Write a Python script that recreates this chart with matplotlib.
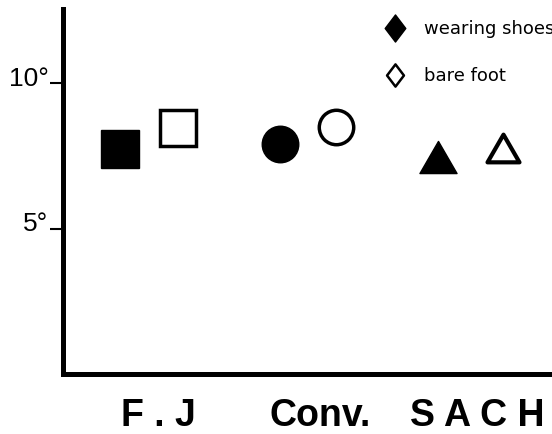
import matplotlib
matplotlib.use("Agg")
import matplotlib.pyplot as plt
from matplotlib.lines import Line2D
from matplotlib.markers import MarkerStyle
from matplotlib.path import Path
from matplotlib.transforms import ScaledTranslation

# values
categories = ["F . J", "Conv.", "S A C H"]
cat_x = [1.95, 5.26, 8.48]
x_shoes = [1.17, 4.44, 7.67]
x_bare = [2.35, 5.58, 9.0]
angle_shoes = [7.72, 7.91, 7.47]
angle_bare = [8.45, 8.48, 7.78]
y_ticks = [5, 10]
y_tick_labels = ["5°", "10°"]

tri = MarkerStyle(Path([(-1, -0.866), (1, -0.866), (0, 0.866), (-1, -0.866)], closed=True),
                  joinstyle="miter")
diamond = MarkerStyle(Path([(0, 1), (0.76, 0), (0, -1), (-0.76, 0), (0, 1)], closed=True),
                      joinstyle="miter")

# marker, size for filled / open
shapes = [("s", 27.4, 26.3), ("o", 26.3, 24.8), (tri, 26.7, 23)]

fig = plt.figure(figsize=(5.52, 4.34), dpi=100)
ax = fig.add_axes([63 / 552, 60 / 434, 1 - 63 / 552, (374 - 9) / 434])

for i, (m, s_full, s_open) in enumerate(shapes):
    ax.plot(x_shoes[i], angle_shoes[i], linestyle="none", marker=m, markersize=s_full,
            markerfacecolor="black", markeredgecolor="black", markeredgewidth=1)
    ax.plot(x_bare[i], angle_bare[i], linestyle="none", marker=m, markersize=s_open,
            markerfacecolor="white", markeredgecolor="black",
            markeredgewidth=3 if m is tri else 2.5)

ax.set_xlim(0, 10)
ax.set_ylim(0, 12.55)

for side in ["top", "right"]:
    ax.spines[side].set_visible(False)
for side in ["left", "bottom"]:
    ax.spines[side].set_linewidth(3.6)
    ax.spines[side].set_capstyle("projecting")

ax.set_yticks(y_ticks, y_tick_labels, fontsize=19, family="Liberation Sans")
ax.tick_params(axis="y", length=9.4, width=1.5, pad=1)
for lab in ax.get_yticklabels():
    lab.set_transform(lab.get_transform() + ScaledTranslation(0, 5 / 72, fig.dpi_scale_trans))

ax.set_xticks(cat_x, categories, fontsize=27, family="Liberation Sans", fontweight="bold")
ax.tick_params(axis="x", length=0, pad=17)

handles = [
    Line2D([], [], linestyle="none", marker=diamond, markersize=19.5,
           markerfacecolor="black", markeredgecolor="black", markeredgewidth=1),
    Line2D([], [], linestyle="none", marker=diamond, markersize=16,
           markerfacecolor="white", markeredgecolor="black", markeredgewidth=1.8),
]
ax.legend(handles, ["wearing shoes", "bare foot"], loc="upper left",
          bbox_to_anchor=(386 / 552, 1 - 20 / 434), bbox_transform=fig.transFigure,
          frameon=False, borderpad=0, borderaxespad=0, handlelength=1, handletextpad=1.1,
          labelspacing=1.62, prop={"family": "DejaVu Sans", "size": 13})

fig.savefig("out.png", dpi=100, facecolor="white")
